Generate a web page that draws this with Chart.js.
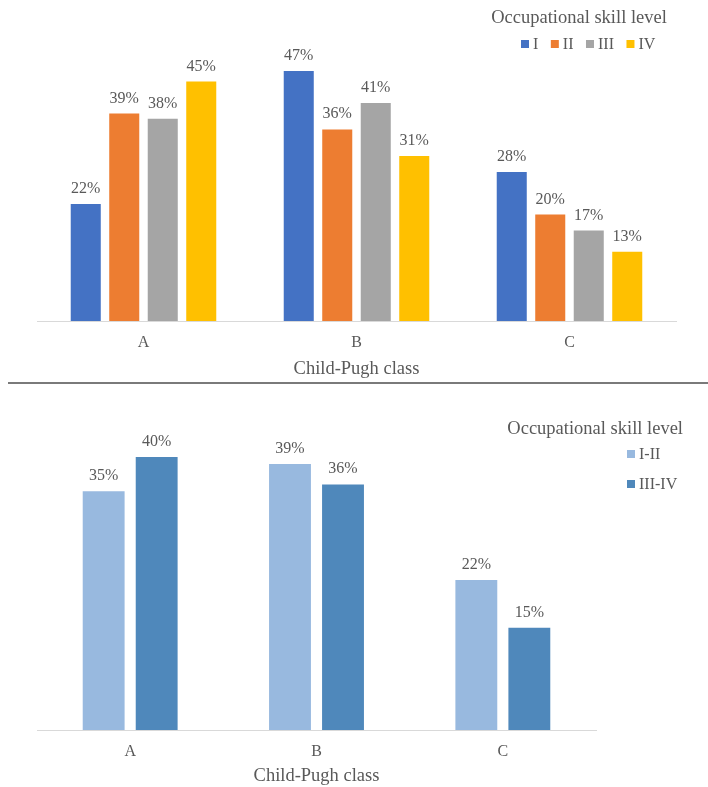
<!DOCTYPE html>
<html>
<head>
<meta charset="utf-8">
<title>Occupational skill level by Child-Pugh class</title>
<script src="https://cdn.jsdelivr.net/npm/chart.js@4.4.1/dist/chart.umd.min.js"></script>
<style>
  body { margin: 0; background: #fff; }
  #wrap { position: relative; width: 708px; height: 787px; overflow: hidden; }
  canvas { position: absolute; left: 0; }
  #topChart { top: 0; }
  #rule { position: absolute; left: 8px; top: 382px; width: 700px; height: 2px; background: #7a7a7a; }
  #bottomChart { top: 384px; }
</style>
</head>
<body>
<div id="wrap">
  <canvas id="topChart" width="708" height="382"></canvas>
  <div id="rule"></div>
  <canvas id="bottomChart" width="708" height="403"></canvas>
</div>
<script>
// categories and values (percent)
const categories = ['A', 'B', 'C'];
const levelI = [22, 47, 28];
const levelII = [39, 36, 20];
const levelIII = [38, 41, 17];
const levelIV = [45, 31, 13];
const levelLow = [35, 39, 22];   // I-II
const levelHigh = [40, 36, 15];  // III-IV

const fontFamily = '"Liberation Serif", "Times New Roman", serif';
const textColor = '#595959';

// percent labels over each bar
const valueLabels = {
    id: 'valueLabels',
    afterDatasetsDraw(chart) {
        const ctx = chart.ctx;
        ctx.save();
        ctx.font = '16px ' + fontFamily;
        ctx.fillStyle = textColor;
        ctx.textAlign = 'center';
        ctx.textBaseline = 'alphabetic';
        chart.data.datasets.forEach(function(ds, i) {
            chart.getDatasetMeta(i).data.forEach(function(bar, j) {
                ctx.fillText(ds.data[j] + '%', bar.x, bar.y - 11);
            });
        });
        ctx.restore();
    }
};

// legend with title, drawn from the datasets
const skillLegend = {
    id: 'skillLegend',
    afterDraw(chart, args, opts) {
        const ctx = chart.ctx;
        ctx.save();
        ctx.fillStyle = textColor;
        ctx.textBaseline = 'alphabetic';
        ctx.font = '18.5px ' + fontFamily;
        ctx.textAlign = opts.titleAlign;
        ctx.fillText(opts.title, opts.titleX, opts.titleY);
        ctx.font = '16px ' + fontFamily;
        ctx.textAlign = 'left';
        let x = opts.x, y = opts.y;
        chart.data.datasets.forEach(function(ds) {
            ctx.fillStyle = ds.backgroundColor;
            ctx.fillRect(x, y - 9, 8, 8);
            ctx.fillStyle = textColor;
            ctx.fillText(ds.label, x + 12, y);
            if (opts.vertical) {
                y += opts.step;
            } else {
                x += 12 + ctx.measureText(ds.label).width + opts.gap;
            }
        });
        ctx.restore();
    }
};

function xAxis(height) {
    return {
        grid: { display: false, drawTicks: false },
        border: { display: true, color: '#d9d9d9', width: 1 },
        ticks: { color: textColor, padding: 12, font: { family: fontFamily, size: 16 } },
        title: {
            display: true,
            text: 'Child-Pugh class',
            color: textColor,
            padding: 0,
            font: { family: fontFamily, size: 18.5 }
        },
        afterFit: function(scale) { scale.height = height; }
    };
}

new Chart(document.getElementById('topChart'), {
    type: 'bar',
    data: {
        labels: categories,
        datasets: [
            { label: 'I', data: levelI, backgroundColor: '#4472C4' },
            { label: 'II', data: levelII, backgroundColor: '#ED7D31' },
            { label: 'III', data: levelIII, backgroundColor: '#A5A5A5' },
            { label: 'IV', data: levelIV, backgroundColor: '#FFC000' }
        ]
    },
    options: {
        responsive: false,
        animation: false,
        devicePixelRatio: 1,
        categoryPercentage: 0.723,
        barPercentage: 0.78,
        layout: { padding: { top: 55, left: 37, right: 32, bottom: 2 } },
        scales: {
            x: xAxis(59),
            y: { display: false, min: 0, max: 50 }
        },
        plugins: {
            legend: { display: false },
            tooltip: { enabled: false },
            skillLegend: {
                title: 'Occupational skill level', titleAlign: 'center', titleX: 579, titleY: 23,
                x: 521, y: 49, gap: 12.5, vertical: false
            }
        }
    },
    plugins: [valueLabels, skillLegend]
});

new Chart(document.getElementById('bottomChart'), {
    type: 'bar',
    data: {
        labels: categories,
        datasets: [
            { label: 'I-II', data: levelLow, backgroundColor: '#98B9DF' },
            { label: 'III-IV', data: levelHigh, backgroundColor: '#4F88BB' }
        ]
    },
    options: {
        responsive: false,
        animation: false,
        devicePixelRatio: 1,
        categoryPercentage: 0.569,
        barPercentage: 0.79,
        layout: { padding: { top: 39, left: 37, right: 112, bottom: 0 } },
        scales: {
            x: xAxis(57),
            y: { display: false, min: 0, max: 45 }
        },
        plugins: {
            legend: { display: false },
            tooltip: { enabled: false },
            skillLegend: {
                title: 'Occupational skill level', titleAlign: 'right', titleX: 683, titleY: 50,
                x: 627, y: 75, step: 30, vertical: true
            }
        }
    },
    plugins: [valueLabels, skillLegend]
});
</script>
</body>
</html>
